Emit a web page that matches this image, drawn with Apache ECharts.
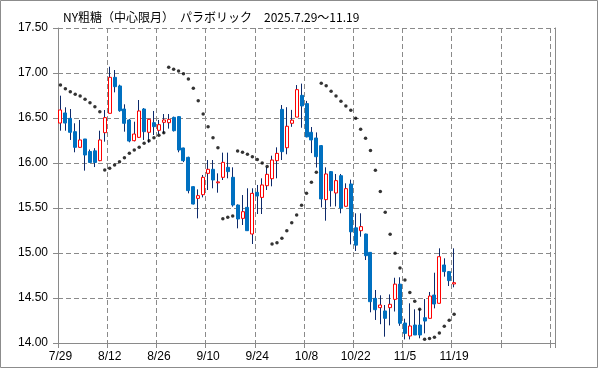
<!DOCTYPE html>
<html>
<head>
<meta charset="utf-8">
<script src="https://cdn.jsdelivr.net/npm/echarts@6/dist/echarts.min.js"></script>
<style>
html,body{margin:0;padding:0;background:#fff;}
#chart{width:599px;height:369px;}
</style>
</head>
<body>
<div id="chart"></div>
<script>
const titleText = "NY粗糖（中心限月）　パラボリック　2025.7.29～11.19";

const dates = [
  "7/29","7/30","7/31","8/1","8/4","8/5","8/6","8/7","8/8","8/11",
  "8/12","8/13","8/14","8/15","8/18","8/19","8/20","8/21","8/22","8/25",
  "8/26","8/27","8/28","8/29","9/2","9/3","9/4","9/5","9/8","9/9",
  "9/10","9/11","9/12","9/15","9/16","9/17","9/18","9/19","9/22","9/23",
  "9/24","9/25","9/26","9/29","9/30","10/1","10/2","10/3","10/6","10/7",
  "10/8","10/9","10/10","10/13","10/14","10/15","10/16","10/17","10/20","10/21",
  "10/22","10/23","10/24","10/27","10/28","10/29","10/30","10/31","11/3","11/4",
  "11/5","11/6","11/7","11/10","11/11","11/12","11/13","11/14","11/17","11/18",
  "11/19"
];
// empty slots to the right of the last trading day
const emptySlots = ["","","","","","","","","","","","","","","","","","","",""];

const opens = [
  16.444,16.556,16.496,16.348,16.174,16.267,16.128,16.135,16.026,16.337,
  16.552,16.952,16.856,16.600,16.478,16.248,16.285,16.600,16.341,16.448,
  16.363,16.452,16.448,16.507,16.515,16.167,16.063,15.737,15.607,15.648,
  15.885,15.930,15.780,15.841,15.952,15.841,15.533,15.385,15.507,15.211,
  15.674,15.618,15.748,15.826,16.026,16.596,16.170,16.441,16.510,16.752,
  16.660,16.341,16.278,16.193,15.593,15.904,15.667,15.859,15.519,15.767,
  15.280,15.248,15.211,15.007,14.496,14.393,14.356,14.393,14.485,14.654,
  14.222,14.078,14.200,14.200,14.281,14.274,14.533,14.441,14.867,14.793,
  14.656
];
const closes = [
  16.589,16.444,16.341,16.174,16.256,16.089,16.006,16.006,16.256,16.504,
  16.952,16.848,16.581,16.441,16.244,16.322,16.578,16.348,16.485,16.404,
  16.426,16.478,16.485,16.359,16.144,16.026,15.693,15.544,15.637,15.841,
  15.930,15.811,15.790,16.007,15.904,15.533,15.378,15.459,15.248,15.663,
  15.633,15.756,15.874,16.033,16.107,16.126,16.408,16.476,16.815,16.634,
  16.290,16.256,16.070,15.600,15.878,15.693,15.804,15.500,15.715,15.235,
  15.087,15.293,14.970,14.459,14.370,14.422,14.274,14.430,14.654,14.219,
  14.107,14.189,14.089,14.089,14.244,14.522,14.433,14.959,14.793,14.693,
  14.670
];
const lows = [
  16.359,16.359,16.256,16.119,16.170,15.915,16.000,15.955,16.020,16.237,
  16.550,16.785,16.570,16.348,16.230,16.240,16.280,16.256,16.226,16.311,
  16.322,16.330,16.382,16.350,16.119,16.010,15.663,15.540,15.385,15.618,
  15.700,15.719,15.670,15.811,15.830,15.515,15.274,15.311,15.248,15.100,
  15.433,15.433,15.700,15.741,15.830,16.033,16.097,16.402,16.510,16.392,
  16.285,16.110,15.950,15.507,15.359,15.515,15.518,15.441,15.515,15.095,
  15.022,15.181,14.922,14.341,14.256,14.209,14.070,14.196,14.350,14.191,
  14.040,14.040,14.089,14.052,14.107,14.274,14.385,14.441,14.737,14.633,
  14.619
];
const highs = [
  16.748,16.619,16.600,16.441,16.478,16.267,16.150,16.165,16.359,16.589,
  17.070,17.033,16.870,16.652,16.490,16.459,16.700,16.610,16.490,16.578,
  16.478,16.544,16.544,16.515,16.520,16.170,16.070,15.740,15.707,15.867,
  16.033,16.033,15.885,16.115,16.115,15.952,15.540,15.644,15.719,15.719,
  15.756,15.830,15.952,16.081,16.174,16.644,16.620,16.590,16.866,16.882,
  16.690,16.400,16.340,16.200,15.952,15.910,15.878,15.878,15.774,15.815,
  15.441,15.441,15.215,15.010,14.589,14.530,14.422,14.540,14.725,14.730,
  14.270,14.441,14.374,14.374,14.489,14.567,14.781,15.052,14.941,14.800,
  15.052
];
const sar = [
  16.867,16.826,16.793,16.763,16.744,16.707,16.670,16.626,16.570,15.922,
  15.941,15.978,16.015,16.059,16.107,16.144,16.174,16.219,16.248,16.281,
  16.307,16.337,17.063,17.041,17.022,16.993,16.933,16.830,16.693,16.544,
  16.404,16.281,16.170,15.381,15.396,15.411,16.133,16.119,16.096,16.070,
  16.040,16.000,15.960,15.100,15.115,15.163,15.248,15.337,15.422,15.530,
  15.663,15.785,15.896,16.885,16.859,16.796,16.744,16.687,16.633,16.585,
  16.496,16.376,16.274,16.140,15.920,15.683,15.452,15.209,14.996,14.833,
  14.700,14.561,14.463,14.374,14.041,14.050,14.063,14.110,14.187,14.252,
  14.320
];
const yTicks = { min: 14, max: 17.5, step: 0.5 };

const categories = dates.concat(emptySlots);
const wickData = opens.map((o, i) => [o, closes[i], lows[i], highs[i]]);
const bodyData = opens.map((o, i) => [o, closes[i], Math.min(o, closes[i]), Math.max(o, closes[i])]);

const gridGray = '#8a8a8a';
const chart = echarts.init(document.getElementById('chart'), null, { renderer: 'canvas' });
chart.setOption({
  animation: false,
  backgroundColor: '#ffffff',
  title: {
    text: titleText,
    left: 58, top: 6,
    textStyle: { fontSize: 12, fontWeight: 'normal', color: '#000', fontFamily: '"Noto Sans CJK JP", sans-serif' }
  },
  graphic: [{
    type: 'rect', silent: true,
    shape: { x: 0.5, y: 0.5, width: 597, height: 367 },
    style: { fill: 'none', stroke: '#8c8c8c', lineWidth: 1 }
  }],
  grid: { left: 58, right: 44, top: 28, bottom: 26, containLabel: false },
  xAxis: {
    type: 'category',
    data: categories,
    boundaryGap: true,
    axisLine: { show: true, lineStyle: { color: gridGray, width: 1 } },
    axisTick: { show: true, interval: 9, length: 5, lineStyle: { color: gridGray } },
    axisLabel: { interval: 9, color: '#000', fontSize: 12, margin: 8, fontFamily: '"Liberation Sans", Arial, sans-serif' },
    splitLine: { show: true, interval: 9, lineStyle: { color: gridGray, type: [5, 3], width: 1 } }
  },
  yAxis: [{
    type: 'value',
    min: yTicks.min, max: yTicks.max, interval: yTicks.step,
    axisLine: { show: true, lineStyle: { color: gridGray, width: 1 } },
    axisTick: { show: true, length: 5, lineStyle: { color: gridGray } },
    axisLabel: { color: '#000', fontSize: 12, margin: 10, fontFamily: '"Liberation Sans", Arial, sans-serif',
      formatter: v => v.toFixed(2) },
    splitLine: { show: true, lineStyle: { color: gridGray, type: [5, 3], width: 1 } }
  }, {
    type: 'value', position: 'right',
    min: yTicks.min, max: yTicks.max, interval: yTicks.step,
    axisLine: { show: true, lineStyle: { color: gridGray, width: 1 } },
    axisTick: { show: false }, axisLabel: { show: false }, splitLine: { show: false }
  }],
  series: [{
    name: 'wick', type: 'candlestick', data: wickData, barWidth: 1,
    itemStyle: { color: '#0d2a6b', color0: '#0d2a6b', borderColor: '#0d2a6b', borderColor0: '#0d2a6b', borderWidth: 1 }
  }, {
    name: 'body', type: 'candlestick', data: bodyData, barWidth: 3.5,
    itemStyle: { color: '#ffffff', color0: '#0070c0', borderColor: '#ff0000', borderColor0: '#0070c0', borderWidth: 1 }
  }, {
    name: 'SAR', type: 'scatter', data: sar, symbol: 'circle', symbolSize: 3.5,
    itemStyle: { color: '#000000' }
  }]
});
</script>
</body>
</html>
